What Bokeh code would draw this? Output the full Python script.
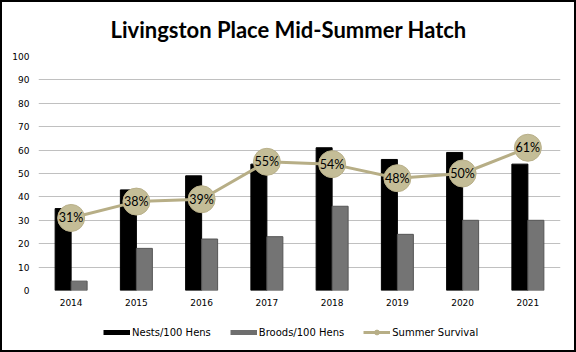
from bokeh.plotting import figure
from bokeh.layouts import column
from bokeh.models import (ColumnDataSource, FactorRange, Legend, LegendItem, Range1d,
                          SingleIntervalTicker, Title)
from bokeh.core.properties import value
from bokeh.transform import dodge
from bokeh.embed import file_html
from bokeh.resources import INLINE

years = ["2014", "2015", "2016", "2017", "2018", "2019", "2020", "2021"]
nests = [35, 43, 49, 54, 61, 56, 59, 54]
broods = [4, 18, 22, 23, 36, 24, 30, 30]
survival = [31, 38, 39, 55, 54, 48, 50, 61]
survival_labels = [f"{v}%" for v in survival]
series_names = ["Nests/100 Hens", "Broods/100 Hens", "Summer Survival"]

src = ColumnDataSource(dict(years=years, nests=nests, broods=broods,
                            survival=survival, labels=survival_labels))

p = figure(x_range=FactorRange(*years), y_range=Range1d(0, 100),
           width=576, height=318, output_backend="svg", toolbar_location=None,
           min_border_left=38, min_border_right=16, min_border_top=56,
           min_border_bottom=28, background_fill_color="white",
           border_fill_color="white")
p.outline_line_color = None

p.title = Title(text="Livingston Place Mid-Summer Hatch", align="left",
                text_font="Lato", text_font_style="bold", text_font_size="22px",
                text_color="black", offset=72, standoff=27)

bw = 0.245
p.vbar(x=dodge("years", -bw / 2, range=p.x_range), top="nests", width=bw, source=src,
       fill_color="black", line_color="black")
p.vbar(x=dodge("years", bw / 2, range=p.x_range), top="broods", width=bw, source=src,
       fill_color="#747474", line_color="#555555")

line_col = "#B7AE86"
p.line(x="years", y="survival", source=src, line_color=line_col, line_width=3)
p.scatter(x="years", y="survival", source=src, size=27, fill_color="#C4BD97",
          line_color="#B9B08A", line_width=1)
p.text(x="years", y="survival", text="labels", source=src, text_align="center",
       text_baseline="middle", text_font=value("Lato"), text_font_size="12.5px",
       text_color="black")

p.yaxis.ticker = SingleIntervalTicker(interval=10)
p.ygrid.ticker = SingleIntervalTicker(interval=10)
p.ygrid.grid_line_color = "#C0C0C0"
p.xgrid.grid_line_color = None
for ax in (p.xaxis, p.yaxis):
    ax.axis_line_color = None
    ax.major_tick_line_color = None
    ax.minor_tick_line_color = None
    ax.major_tick_out = 0
    ax.major_tick_in = 0
    ax.major_label_text_font = "DejaVu Sans"
    ax.major_label_text_font_size = "9px"
    ax.major_label_text_color = "black"
p.xaxis.major_label_standoff = 8
p.yaxis.major_label_standoff = 5

# legend strip below the chart
lg = figure(width=576, height=34, x_range=Range1d(0, 1), y_range=Range1d(0, 1),
            output_backend="svg", toolbar_location=None, min_border=0,
            x_axis_location=None, y_axis_location=None,
            background_fill_color="white", border_fill_color="white")
lg.outline_line_color = None
lg.xgrid.visible = False
lg.ygrid.visible = False
proxy = ColumnDataSource(dict(x=[-10], y=[-10]))
l_n = lg.line(x="x", y="y", source=proxy, line_color="black", line_width=5)
l_b = lg.line(x="x", y="y", source=proxy, line_color="#6E6E6E", line_width=5)
l_s = lg.line(x="x", y="y", source=proxy, line_color=line_col, line_width=3)
c_s = lg.scatter(x="x", y="y", source=proxy, size=6, fill_color=line_col, line_color=line_col)

legend = Legend(items=[LegendItem(label=series_names[0], renderers=[l_n]),
                       LegendItem(label=series_names[1], renderers=[l_b]),
                       LegendItem(label=series_names[2], renderers=[l_s, c_s])],
                orientation="horizontal", location=(65, 14), glyph_width=27,
                glyph_height=12, label_height=12, label_standoff=2, spacing=19,
                padding=0, margin=0, border_line_color=None,
                background_fill_alpha=0,
                label_text_font="DejaVu Sans", label_text_font_size="10px",
                label_text_color="black")
lg.add_layout(legend, "center")

layout = column(p, lg, spacing=0)

html = file_html(layout, INLINE)
frame_css = ("<style>body::after{content:'';position:fixed;left:0;top:0;width:576px;"
             "height:352px;box-sizing:border-box;border:2px solid #000;"
             "pointer-events:none;z-index:10;}</style></head>")
html = html.replace("</head>", frame_css, 1)
open("out.html", "w").write(html)
